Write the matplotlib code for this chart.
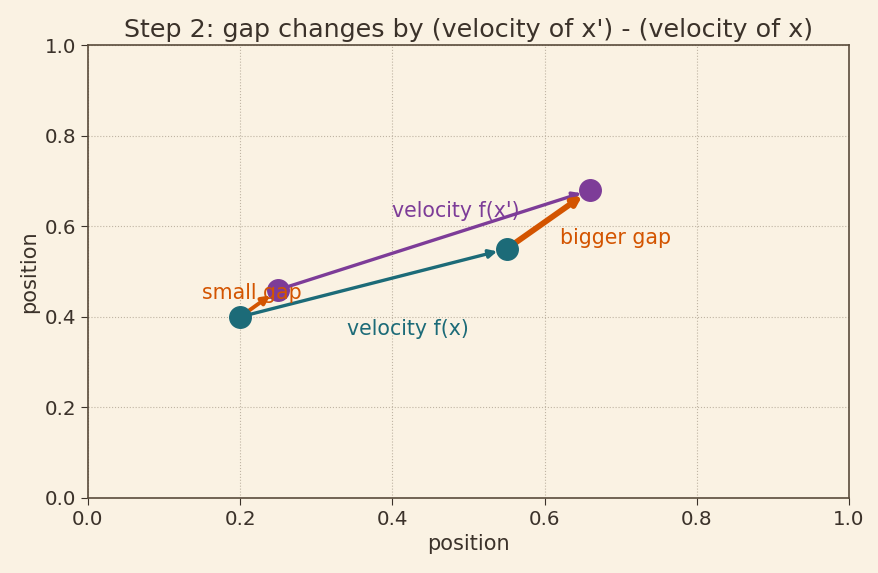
import matplotlib
matplotlib.use("Agg")
import matplotlib.pyplot as plt

# points (position space)
x_pt = (0.20, 0.40)
xp_pt = (0.25, 0.46)
fx_pt = (0.55, 0.55)
fxp_pt = (0.66, 0.68)

labels = ["velocity f(x)", "velocity f(x')", "small gap", "bigger gap"]
label_pos = [(0.34, 0.36), (0.40, 0.62), (0.15, 0.44), (0.62, 0.56)]

bg = "#faf2e3"
ink = "#3b322a"
teal = "#1c6b78"
purple = "#7d3c98"
orange = "#d35400"

plt.rcParams['font.family'] = ['DejaVu Sans']
fig, ax = plt.subplots(figsize=(8.79, 5.73), dpi=100)
fig.patch.set_facecolor(bg)
ax.set_facecolor(bg)

def arrow(a, b, color, lw, shrinkB=7):
    ax.annotate("", xy=b, xytext=a,
                arrowprops=dict(arrowstyle="-|>", color=color, lw=lw,
                                shrinkA=0, shrinkB=shrinkB,
                                mutation_scale=12))

arrow(x_pt, fx_pt, teal, 2.4)
arrow(xp_pt, fxp_pt, purple, 2.4)
arrow(x_pt, xp_pt, orange, 2.8)
arrow(fx_pt, fxp_pt, orange, 4.2)

ax.plot(*zip(x_pt, fx_pt), "o", color=teal, ms=15.5, zorder=5)
ax.plot(*zip(xp_pt, fxp_pt), "o", color=purple, ms=15.5, zorder=5)

colors = [teal, purple, orange, orange]
for lab, pos, c in zip(labels, label_pos, colors):
    ax.text(pos[0], pos[1], lab, color=c, fontsize=14.8, zorder=6)

ax.set_xlim(0, 1)
ax.set_ylim(0, 1)
ax.set_xlabel("position", fontsize=15, color=ink)
ax.set_ylabel("position", fontsize=15, color=ink)
ax.set_title("Step 2: gap changes by (velocity of x') - (velocity of x)",
             fontsize=18.3, color=ink)
ax.grid(True, linestyle=":", color="#bfb4a3", lw=0.8)
ax.tick_params(colors=ink, labelsize=14.3, length=5)
for s in ax.spines.values():
    s.set_color("#5a4c3c")
    s.set_linewidth(1.2)

fig.subplots_adjust(left=0.1, right=0.966, top=0.921, bottom=0.131)
fig.savefig("out.png", facecolor=bg)
